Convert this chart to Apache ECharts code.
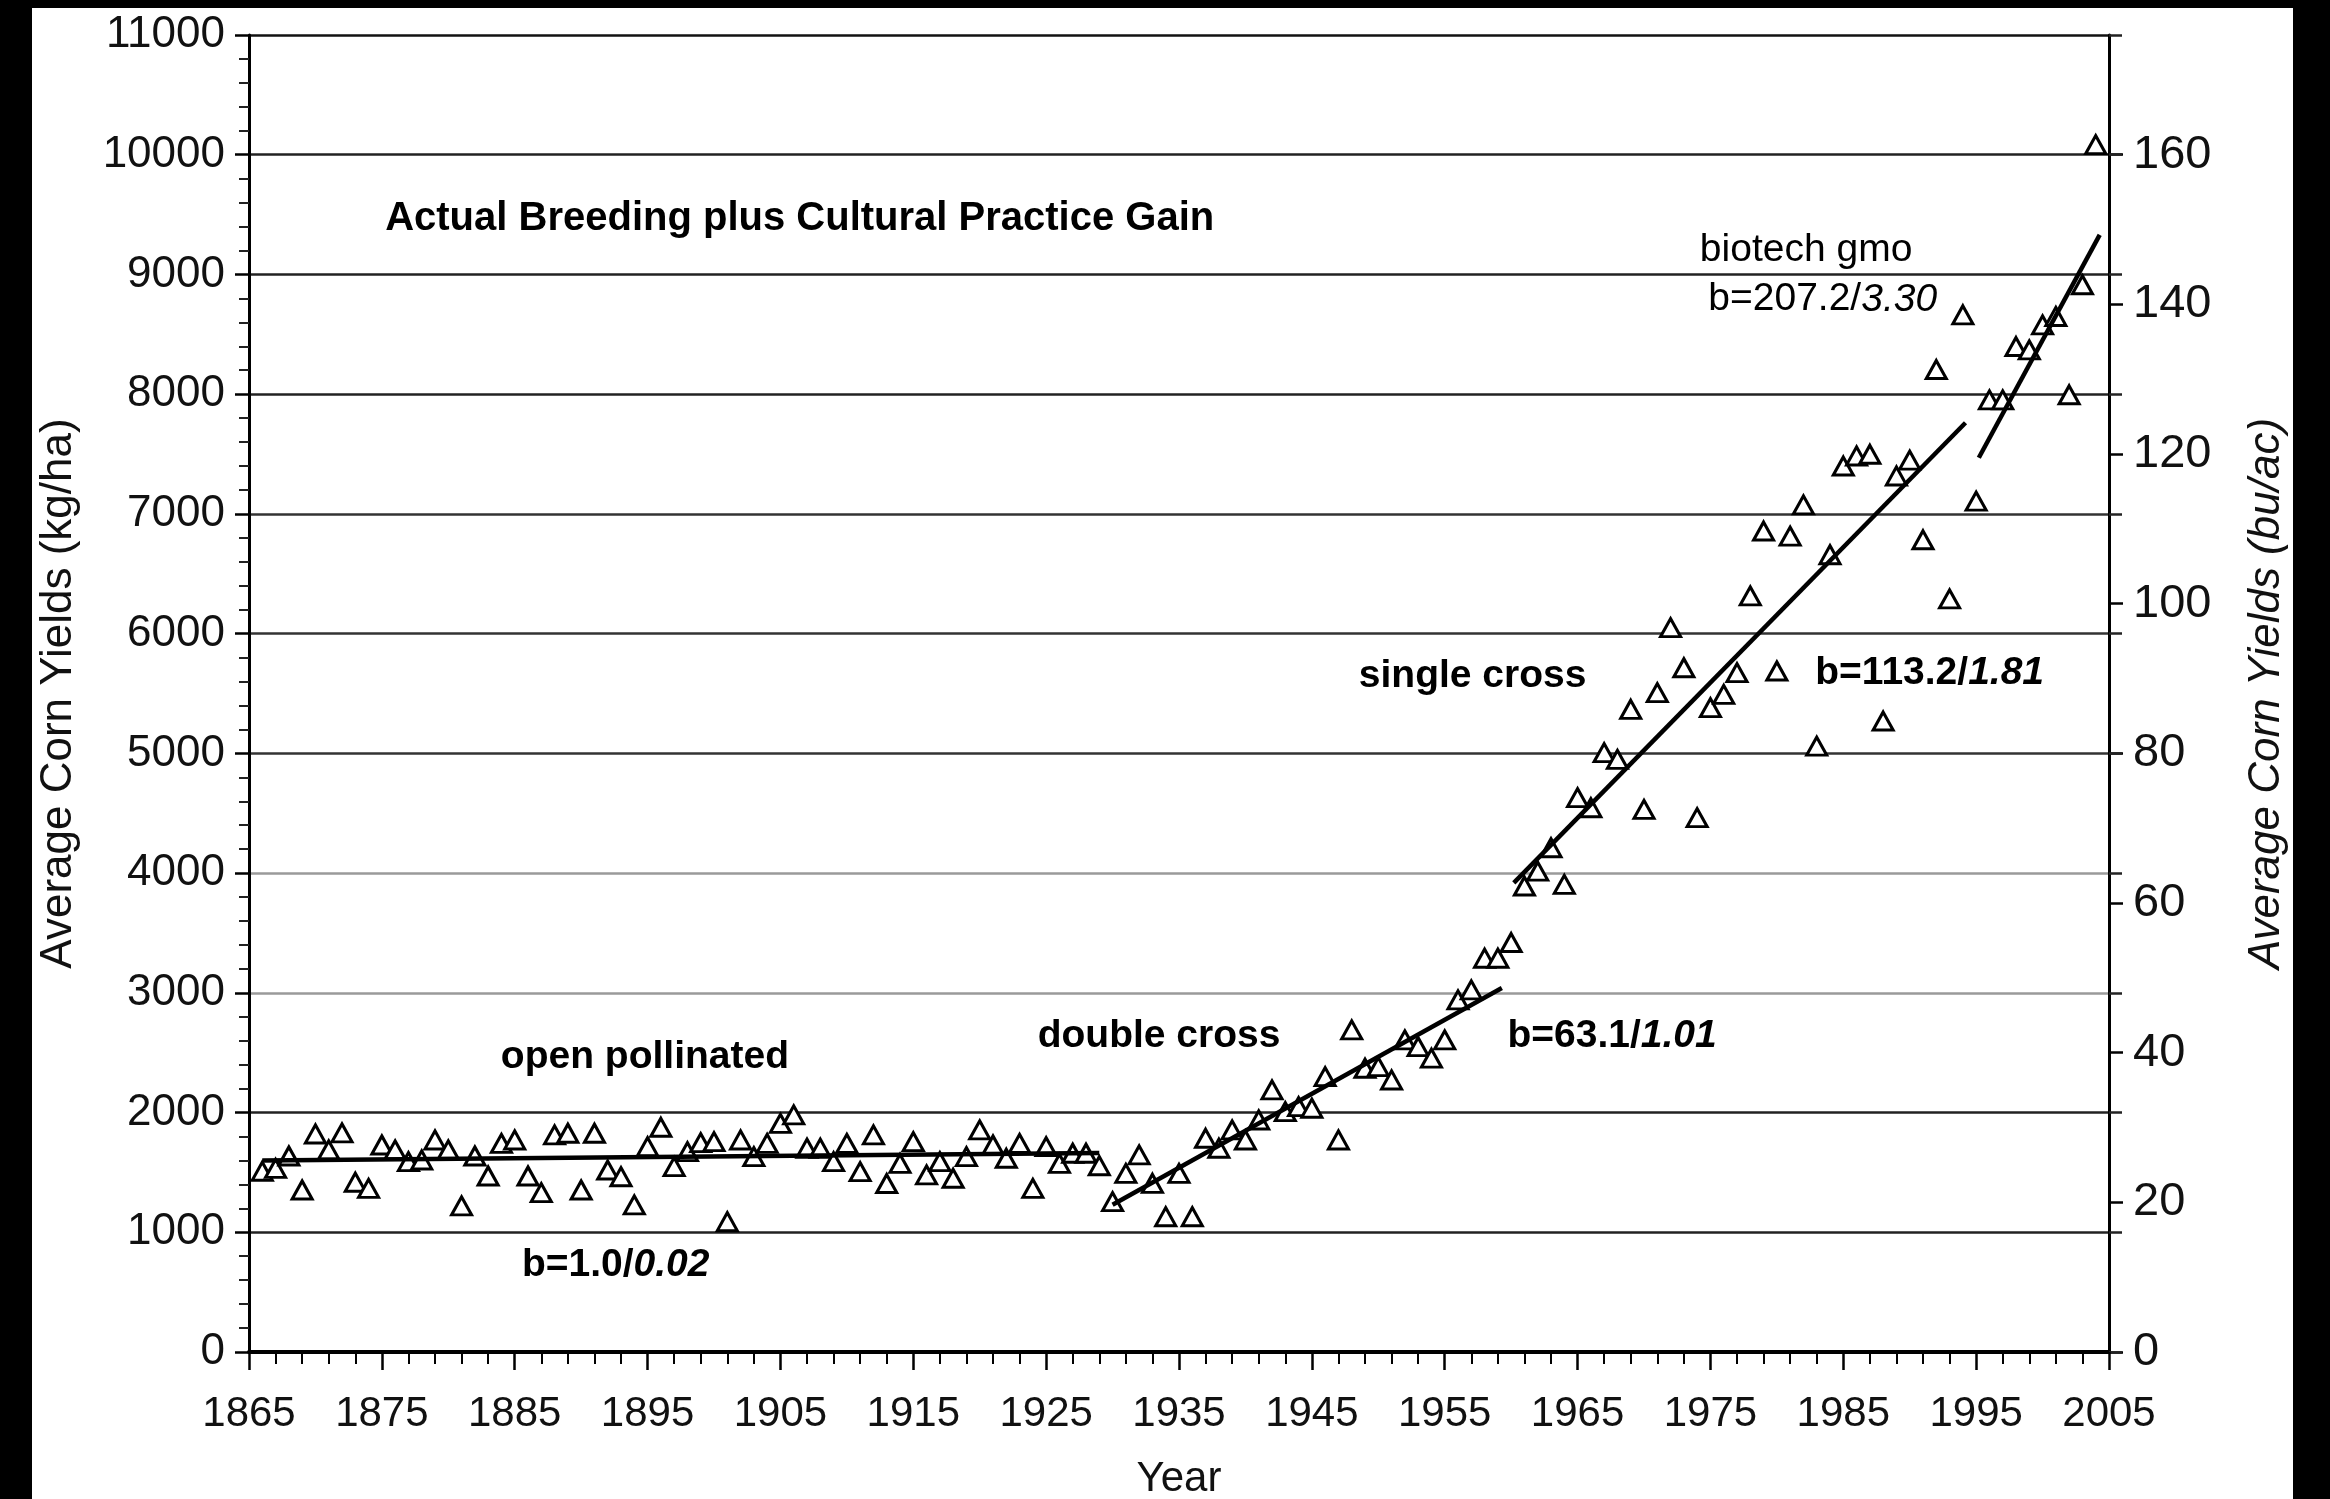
<!DOCTYPE html>
<html>
<head>
<meta charset="utf-8">
<script src="https://cdn.jsdelivr.net/npm/echarts@6/dist/echarts.min.js"></script>
<style>
  html, body { margin: 0; padding: 0; background: #000; width: 2330px; height: 1499px; overflow: hidden; }
  #chart { position: absolute; left: 32px; top: 8px; width: 2261px; height: 1491px; background: #fff; }
</style>
</head>
<body>
<div id="chart"></div>
<script>
// ---- data ----
const years = [
  1866,1867,1868,1869,1870,1871,1872,1873,1874,1875,1876,1877,1878,1879,1880,
  1881,1882,1883,1884,1885,1886,1887,1888,1889,1890,1891,1892,1893,1894,1895,
  1896,1897,1898,1899,1900,1901,1902,1903,1904,1905,1906,1907,1908,1909,1910,
  1911,1912,1913,1914,1915,1916,1917,1918,1919,1920,1921,1922,1923,1924,1925,
  1926,1927,1928,1929,1930,1931,1932,1933,1934,1935,1936,1937,1938,1939,1940,
  1941,1942,1943,1944,1945,1946,1947,1948,1949,1950,1951,1952,1953,1954,1955,
  1956,1957,1958,1959,1960,1961,1962,1963,1964,1965,1966,1967,1968,1969,1970,
  1971,1972,1973,1974,1975,1976,1977,1978,1979,1980,1981,1982,1983,1984,1985,
  1986,1987,1988,1989,1990,1991,1992,1993,1994,1995,1996,1997,1998,1999,2000,
  2001,2002,2003,2004
];
const yieldsKgHa = [
  1510,1534,1637,1353,1821,1688,1830,1418,1367,1729,1688,1590,1604,1771,1688,
  1220,1637,1470,1743,1771,1470,1331,1813,1827,1353,1827,1520,1464,1229,1715,
  1877,1548,1674,1749,1757,1088,1771,1632,1743,1910,1980,1702,1702,1590,1743,
  1506,1813,1407,1576,1757,1479,1590,1451,1632,1855,1729,1618,1743,1367,1715,
  1576,1660,1660,1556,1256,1492,1646,1409,1130,1492,1130,1785,1702,1855,1771,
  1938,2189,2008,2050,2036,2300,1771,2690,2370,2384,2272,2607,2551,2454,2607,
  2941,3024,3289,3289,3420,3892,4017,4212,3906,4630,4546,5006,4950,5368,4532,
  5507,6050,5715,4463,5382,5493,5674,6315,6857,5688,6815,7075,5061,6659,7400,
  7484,7498,5270,7317,7449,6784,8206,6290,8663,7107,7953,7953,8398,8370,8579,
  8649,7995,8914,10084
];
// regression segments (start/end year and fitted yield, kg/ha)
const trendOpenPollinated = [[1866, 1600], [1929, 1663]];
const trendDoubleCross   = [[1930, 1230], [1959.3, 3041]];
const trendSingleCross   = [[1960.2, 3918], [1994.2, 7761]];
const trendBiotech       = [[1995.2, 7469], [2004.3, 9331]];
// axis ticks
const xTicks = [1865, 2005, 10];
const yTicksKg = [0, 11000, 1000];
const buAcTicks = [0, 20, 40, 60, 80, 100, 120, 140, 160];
const KG_PER_BU_AC = 62.5;
// annotation texts
const txtTitle = 'Actual Breeding plus Cultural Practice Gain';
const txtBiotech = 'biotech gmo';
const txtBiotechB = ['b=207.2/', '3.30'];
const txtSingle = 'single cross';
const txtSingleB = ['b=113.2/', '1.81'];
const txtDouble = 'double cross';
const txtDoubleB = ['b=63.1/', '1.01'];
const txtOpen = 'open pollinated';
const txtOpenB = ['b=1.0/', '0.02'];

const FONT = 'Liberation Sans, Arial, Helvetica, sans-serif';
const chart = echarts.init(document.getElementById('chart'), null, { renderer: 'canvas' });

const richStyles = {
  b: { fontFamily: FONT, fontSize: 39, fontWeight: 'bold', color: '#000' },
  t: { fontFamily: FONT, fontSize: 40, fontWeight: 'bold', color: '#000' },
  bi: { fontFamily: FONT, fontSize: 39, fontWeight: 'bold', fontStyle: 'italic', color: '#000' },
  n: { fontFamily: FONT, fontSize: 39, color: '#000' },
  ni: { fontFamily: FONT, fontSize: 39, fontStyle: 'italic', color: '#000' }
};
function anno(x, y, fmt) {
  return { value: [x, y], label: { show: true, position: 'inside', formatter: fmt, rich: richStyles, opacity: 1 } };
}

const splitColors = ['#111','#222','#222','#9a9a9a','#9a9a9a','#333','#333','#333','#222','#222','#222','#111'];

function trendSeries(data) {
  return {
    type: 'line', data: data, symbol: 'none', z: 5, silent: true,
    lineStyle: { color: '#000', width: 4.5 }, animation: false
  };
}

const option = {
  animation: false,
  backgroundColor: '#fff',
  grid: { left: 217, right: 184, top: 27, bottom: 147, containLabel: false, outerBoundsMode: 'none' },
  xAxis: {
    type: 'value', min: xTicks[0], max: xTicks[1], interval: xTicks[2],
    axisLine: { show: true, onZero: false, lineStyle: { color: '#000', width: 4 } },
    axisTick: { show: true, length: 18, lineStyle: { color: '#000', width: 2.5 } },
    minorTick: { show: true, splitNumber: 5, length: 12, lineStyle: { color: '#000', width: 2 } },
    axisLabel: { fontFamily: FONT, fontSize: 42, color: '#111', margin: 41, formatter: v => String(v) },
    splitLine: { show: false },
    name: 'Year', nameLocation: 'middle', nameGap: 106,
    nameTextStyle: { fontFamily: FONT, fontSize: 42, color: '#111' }
  },
  yAxis: [
    {
      type: 'value', position: 'left', min: yTicksKg[0], max: yTicksKg[1], interval: yTicksKg[2],
      axisLine: { show: true, lineStyle: { color: '#000', width: 3 } },
      axisTick: { show: true, length: 14, lineStyle: { color: '#000', width: 2.5 } },
      minorTick: { show: true, splitNumber: 5, length: 10, lineStyle: { color: '#222', width: 2 } },
      axisLabel: { fontFamily: FONT, fontSize: 44, color: '#111', margin: 24, formatter: v => String(v) },
      splitLine: { show: true, lineStyle: { color: splitColors, width: 2.5 } },
      name: 'Average Corn Yields (kg/ha)', nameLocation: 'middle', nameGap: 168, nameRotate: 90,
      nameTextStyle: { fontFamily: FONT, fontSize: 44, color: '#111' }
    },
    {
      type: 'value', position: 'right', min: 0, max: yTicksKg[1] / KG_PER_BU_AC, interval: 20,
      axisLine: { show: true, lineStyle: { color: '#000', width: 3 } },
      axisTick: { show: true, length: 14, customValues: buAcTicks, lineStyle: { color: '#000', width: 2.5 } },
      axisLabel: { fontFamily: FONT, fontSize: 47, color: '#111', margin: 24, customValues: buAcTicks, formatter: v => String(v) },
      splitLine: { show: false },
      name: 'Average Corn Yields (bu/ac)', nameLocation: 'middle', nameGap: 136, nameRotate: 90,
      nameTextStyle: { fontFamily: FONT, fontSize: 44, fontStyle: 'italic', color: '#111' }
    },
    {
      type: 'value', position: 'right', min: yTicksKg[0], max: yTicksKg[1], interval: yTicksKg[2],
      axisLine: { show: false },
      axisTick: { show: true, length: 13, lineStyle: { color: '#222', width: 2.5 } },
      axisLabel: { show: false },
      splitLine: { show: false }
    }
  ],
  series: [
    {
      name: 'yield', type: 'scatter', yAxisIndex: 0, z: 3,
      data: years.map((y, i) => [y, yieldsKgHa[i]]),
      symbol: 'triangle', symbolSize: [20, 18],
      itemStyle: { color: '#fff', borderColor: '#000', borderWidth: 3, opacity: 1 }
    },
    trendSeries(trendOpenPollinated),
    trendSeries(trendDoubleCross),
    trendSeries(trendSingleCross),
    trendSeries(trendBiotech),
    {
      name: 'annotations', type: 'scatter', yAxisIndex: 0, symbolSize: 0, z: 6, silent: true,
      itemStyle: { opacity: 1 },
      data: [
        anno(1906.45, 9466, '{t|' + txtTitle + '}'),
        anno(1982.2, 9206, '{n|' + txtBiotech + '}'),
        anno(1983.45, 8789, '{n|' + txtBiotechB[0] + '}{ni|' + txtBiotechB[1] + '}'),
        anno(1957.1, 5647, '{b|' + txtSingle + '}'),
        anno(1991.5, 5672, '{b|' + txtSingleB[0] + '}{bi|' + txtSingleB[1] + '}'),
        anno(1933.5, 2640, '{b|' + txtDouble + '}'),
        anno(1967.6, 2640, '{b|' + txtDoubleB[0] + '}{bi|' + txtDoubleB[1] + '}'),
        anno(1894.8, 2464, '{b|' + txtOpen + '}'),
        anno(1892.6, 727, '{b|' + txtOpenB[0] + '}{bi|' + txtOpenB[1] + '}')
      ]
    }
  ]
};
chart.setOption(option);
</script>
</body>
</html>
